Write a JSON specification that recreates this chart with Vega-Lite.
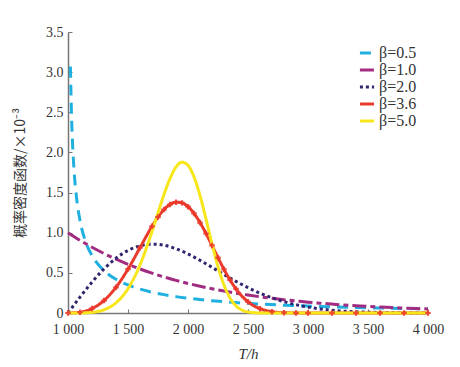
{
  "$schema": "https://vega.github.io/schema/vega-lite/v6.json",
  "autosize": {"type": "none"},
  "width": 360,
  "height": 281,
  "padding": {"left": 68, "top": 32, "right": 32, "bottom": 54},
  "background": "white",
  "config": {
    "view": {"stroke": null},
    "font": "Liberation Serif"
  },
  "datasets": {
    "curves": [
      {"b": "β=0.5", "T": 1020, "f": 3.07},
      {"b": "β=0.5", "T": 1030, "f": 2.428},
      {"b": "β=0.5", "T": 1040, "f": 2.047},
      {"b": "β=0.5", "T": 1050, "f": 1.788},
      {"b": "β=0.5", "T": 1070, "f": 1.45},
      {"b": "β=0.5", "T": 1100, "f": 1.152},
      {"b": "β=0.5", "T": 1150, "f": 0.876},
      {"b": "β=0.5", "T": 1200, "f": 0.715},
      {"b": "β=0.5", "T": 1300, "f": 0.528},
      {"b": "β=0.5", "T": 1400, "f": 0.42},
      {"b": "β=0.5", "T": 1500, "f": 0.349},
      {"b": "β=0.5", "T": 1600, "f": 0.2975},
      {"b": "β=0.5", "T": 1700, "f": 0.2589},
      {"b": "β=0.5", "T": 1800, "f": 0.2286},
      {"b": "β=0.5", "T": 1900, "f": 0.2041},
      {"b": "β=0.5", "T": 2000, "f": 0.1839},
      {"b": "β=0.5", "T": 2200, "f": 0.1526},
      {"b": "β=0.5", "T": 2400, "f": 0.1294},
      {"b": "β=0.5", "T": 2600, "f": 0.1116},
      {"b": "β=0.5", "T": 2800, "f": 0.0974},
      {"b": "β=0.5", "T": 3000, "f": 0.086},
      {"b": "β=0.5", "T": 3200, "f": 0.0765},
      {"b": "β=0.5", "T": 3400, "f": 0.0686},
      {"b": "β=0.5", "T": 3600, "f": 0.0618},
      {"b": "β=0.5", "T": 3800, "f": 0.0561},
      {"b": "β=0.5", "T": 4000, "f": 0.0511},

      {"b": "β=1.0", "T": 1000, "f": 1.0},
      {"b": "β=1.0", "T": 1100, "f": 0.905},
      {"b": "β=1.0", "T": 1200, "f": 0.819},
      {"b": "β=1.0", "T": 1300, "f": 0.741},
      {"b": "β=1.0", "T": 1400, "f": 0.67},
      {"b": "β=1.0", "T": 1500, "f": 0.607},
      {"b": "β=1.0", "T": 1600, "f": 0.549},
      {"b": "β=1.0", "T": 1700, "f": 0.497},
      {"b": "β=1.0", "T": 1800, "f": 0.449},
      {"b": "β=1.0", "T": 1900, "f": 0.407},
      {"b": "β=1.0", "T": 2000, "f": 0.368},
      {"b": "β=1.0", "T": 2100, "f": 0.333},
      {"b": "β=1.0", "T": 2200, "f": 0.301},
      {"b": "β=1.0", "T": 2300, "f": 0.273},
      {"b": "β=1.0", "T": 2400, "f": 0.247},
      {"b": "β=1.0", "T": 2500, "f": 0.223},
      {"b": "β=1.0", "T": 2600, "f": 0.202},
      {"b": "β=1.0", "T": 2700, "f": 0.183},
      {"b": "β=1.0", "T": 2800, "f": 0.165},
      {"b": "β=1.0", "T": 2900, "f": 0.15},
      {"b": "β=1.0", "T": 3000, "f": 0.135},
      {"b": "β=1.0", "T": 3100, "f": 0.122},
      {"b": "β=1.0", "T": 3200, "f": 0.111},
      {"b": "β=1.0", "T": 3300, "f": 0.1},
      {"b": "β=1.0", "T": 3400, "f": 0.091},
      {"b": "β=1.0", "T": 3500, "f": 0.082},
      {"b": "β=1.0", "T": 3600, "f": 0.074},
      {"b": "β=1.0", "T": 3700, "f": 0.067},
      {"b": "β=1.0", "T": 3800, "f": 0.061},
      {"b": "β=1.0", "T": 3900, "f": 0.055},
      {"b": "β=1.0", "T": 4000, "f": 0.05},

      {"b": "β=2.0", "T": 1000, "f": 0.0},
      {"b": "β=2.0", "T": 1100, "f": 0.198},
      {"b": "β=2.0", "T": 1200, "f": 0.384},
      {"b": "β=2.0", "T": 1300, "f": 0.548},
      {"b": "β=2.0", "T": 1400, "f": 0.682},
      {"b": "β=2.0", "T": 1500, "f": 0.779},
      {"b": "β=2.0", "T": 1600, "f": 0.837},
      {"b": "β=2.0", "T": 1700, "f": 0.858},
      {"b": "β=2.0", "T": 1800, "f": 0.844},
      {"b": "β=2.0", "T": 1900, "f": 0.801},
      {"b": "β=2.0", "T": 2000, "f": 0.736},
      {"b": "β=2.0", "T": 2100, "f": 0.656},
      {"b": "β=2.0", "T": 2200, "f": 0.569},
      {"b": "β=2.0", "T": 2300, "f": 0.48},
      {"b": "β=2.0", "T": 2400, "f": 0.394},
      {"b": "β=2.0", "T": 2500, "f": 0.316},
      {"b": "β=2.0", "T": 2600, "f": 0.247},
      {"b": "β=2.0", "T": 2700, "f": 0.189},
      {"b": "β=2.0", "T": 2800, "f": 0.141},
      {"b": "β=2.0", "T": 2900, "f": 0.103},
      {"b": "β=2.0", "T": 3000, "f": 0.073},
      {"b": "β=2.0", "T": 3100, "f": 0.051},
      {"b": "β=2.0", "T": 3200, "f": 0.035},
      {"b": "β=2.0", "T": 3300, "f": 0.023},
      {"b": "β=2.0", "T": 3400, "f": 0.015},
      {"b": "β=2.0", "T": 3500, "f": 0.01},
      {"b": "β=2.0", "T": 3600, "f": 0.006},
      {"b": "β=2.0", "T": 3700, "f": 0.004},
      {"b": "β=2.0", "T": 3800, "f": 0.002},
      {"b": "β=2.0", "T": 3900, "f": 0.001},
      {"b": "β=2.0", "T": 4000, "f": 0.001},

      {"b": "β=3.6", "T": 1000, "f": 0.0},
      {"b": "β=3.6", "T": 1100, "f": 0.009},
      {"b": "β=3.6", "T": 1200, "f": 0.0547},
      {"b": "β=3.6", "T": 1300, "f": 0.1553},
      {"b": "β=3.6", "T": 1400, "f": 0.3203},
      {"b": "β=3.6", "T": 1500, "f": 0.5466},
      {"b": "β=3.6", "T": 1600, "f": 0.8138},
      {"b": "β=3.6", "T": 1700, "f": 1.0797},
      {"b": "β=3.6", "T": 1750, "f": 1.1948},
      {"b": "β=3.6", "T": 1800, "f": 1.2878},
      {"b": "β=3.6", "T": 1850, "f": 1.3517},
      {"b": "β=3.6", "T": 1900, "f": 1.3808},
      {"b": "β=3.6", "T": 1950, "f": 1.3718},
      {"b": "β=3.6", "T": 2000, "f": 1.3244},
      {"b": "β=3.6", "T": 2050, "f": 1.2407},
      {"b": "β=3.6", "T": 2100, "f": 1.1268},
      {"b": "β=3.6", "T": 2150, "f": 0.9905},
      {"b": "β=3.6", "T": 2200, "f": 0.8415},
      {"b": "β=3.6", "T": 2250, "f": 0.6894},
      {"b": "β=3.6", "T": 2300, "f": 0.544},
      {"b": "β=3.6", "T": 2350, "f": 0.413},
      {"b": "β=3.6", "T": 2400, "f": 0.3004},
      {"b": "β=3.6", "T": 2500, "f": 0.1396},
      {"b": "β=3.6", "T": 2600, "f": 0.0536},
      {"b": "β=3.6", "T": 2700, "f": 0.0167},
      {"b": "β=3.6", "T": 2800, "f": 0.0041},
      {"b": "β=3.6", "T": 2900, "f": 0.0008},
      {"b": "β=3.6", "T": 3000, "f": 0.0},
      {"b": "β=3.6", "T": 3200, "f": 0.0},
      {"b": "β=3.6", "T": 3400, "f": 0.0},
      {"b": "β=3.6", "T": 3600, "f": 0.0},
      {"b": "β=3.6", "T": 3800, "f": 0.0},
      {"b": "β=3.6", "T": 4000, "f": 0.0},

      {"b": "β=5.0", "T": 1000, "f": 0.0},
      {"b": "β=5.0", "T": 1100, "f": 0.0005},
      {"b": "β=5.0", "T": 1200, "f": 0.008},
      {"b": "β=5.0", "T": 1300, "f": 0.0404},
      {"b": "β=5.0", "T": 1400, "f": 0.1267},
      {"b": "β=5.0", "T": 1500, "f": 0.3029},
      {"b": "β=5.0", "T": 1600, "f": 0.5995},
      {"b": "β=5.0", "T": 1650, "f": 0.7947},
      {"b": "β=5.0", "T": 1700, "f": 1.0148},
      {"b": "β=5.0", "T": 1750, "f": 1.2477},
      {"b": "β=5.0", "T": 1800, "f": 1.4758},
      {"b": "β=5.0", "T": 1850, "f": 1.6746},
      {"b": "β=5.0", "T": 1900, "f": 1.8177},
      {"b": "β=5.0", "T": 1950, "f": 1.8787},
      {"b": "β=5.0", "T": 2000, "f": 1.8394},
      {"b": "β=5.0", "T": 2050, "f": 1.6963},
      {"b": "β=5.0", "T": 2100, "f": 1.4627},
      {"b": "β=5.0", "T": 2150, "f": 1.1701},
      {"b": "β=5.0", "T": 2200, "f": 0.8609},
      {"b": "β=5.0", "T": 2250, "f": 0.577},
      {"b": "β=5.0", "T": 2300, "f": 0.3486},
      {"b": "β=5.0", "T": 2350, "f": 0.1875},
      {"b": "β=5.0", "T": 2400, "f": 0.0887},
      {"b": "β=5.0", "T": 2450, "f": 0.0364},
      {"b": "β=5.0", "T": 2500, "f": 0.0127},
      {"b": "β=5.0", "T": 2600, "f": 0.0009},
      {"b": "β=5.0", "T": 2700, "f": 0.0},
      {"b": "β=5.0", "T": 3000, "f": 0.0},
      {"b": "β=5.0", "T": 3500, "f": 0.0},
      {"b": "β=5.0", "T": 4000, "f": 0.0}
    ]
  },
  "data": {"name": "curves"},
  "encoding": {
    "x": {
      "field": "T", "type": "quantitative",
      "scale": {"domain": [1000, 4000], "nice": false, "zero": false},
      "axis": {
        "title": "T/h", "titleFont": "Liberation Serif", "titleFontStyle": "italic", "titleFontWeight": "normal",
        "titleFontSize": 15, "titleColor": "#333", "titlePadding": 10,
        "values": [1000, 1500, 2000, 2500, 3000, 3500, 4000],
        "labelExpr": "replace(format(datum.value, ','), ',', ' ')",
        "labelFont": "Liberation Serif", "labelFontSize": 14, "labelColor": "#333",
        "labelFlush": false, "labelOverlap": false,
        "grid": false, "domainColor": "#777", "domainWidth": 1.5,
        "tickColor": "#777", "tickSize": -4, "labelPadding": 13
      }
    },
    "y": {
      "field": "f", "type": "quantitative",
      "scale": {"domain": [0, 3.5], "nice": false},
      "axis": {
        "title": "概率密度函数/×10⁻³", "titleFont": "Noto Sans CJK SC", "titleFontWeight": "normal",
        "titleFontSize": 14, "titleColor": "#333", "titlePadding": 18,
        "values": [0, 0.5, 1, 1.5, 2, 2.5, 3, 3.5],
        "labelExpr": "datum.value == 0 ? '0' : format(datum.value, '.1f')",
        "labelFont": "Liberation Serif", "labelFontSize": 14, "labelColor": "#333",
        "labelFlush": false, "labelOverlap": false, "labelBaseline": "middle",
        "grid": false, "domainColor": "#777", "domainWidth": 1.5,
        "tickColor": "#777", "tickSize": -4, "labelPadding": 9
      }
    }
  },
  "layer": [
    {
      "mark": {"type": "line", "interpolate": "monotone"},
      "encoding": {
        "color": {
          "field": "b", "type": "nominal",
          "scale": {"domain": ["β=0.5", "β=1.0", "β=2.0", "β=3.6", "β=5.0"],
                    "range": ["#1fb0e0", "#a12c82", "#33246e", "#ea3a2c", "#f7e61a"]},
          "legend": {
            "title": null, "orient": "none", "legendX": 290, "legendY": 12,
            "labelFont": "Liberation Serif", "labelFontSize": 16, "labelColor": "#333",
            "symbolType": "stroke", "symbolSize": 200, "symbolStrokeWidth": 3,
            "rowPadding": -1, "labelOffset": 3, "padding": 0
          }
        },
        "strokeDash": {
          "field": "b", "type": "nominal",
          "scale": {"domain": ["β=0.5", "β=1.0", "β=2.0", "β=3.6", "β=5.0"],
                    "range": [[11, 7], [14, 4, 5, 4], [3, 3], [1, 0], [1, 0]]},
          "legend": null
        },
        "strokeWidth": {
          "field": "b", "type": "ordinal",
          "scale": {"domain": ["β=0.5", "β=1.0", "β=2.0", "β=3.6", "β=5.0"],
                    "range": [3, 3, 3, 2, 4]},
          "legend": null
        }
      }
    },
    {
      "transform": [{"filter": "datum.b == 'β=3.6'"}],
      "mark": {"type": "point", "shape": "cross", "filled": true, "size": 30, "color": "#ea3a2c", "opacity": 0.9}
    }
  ]
}
